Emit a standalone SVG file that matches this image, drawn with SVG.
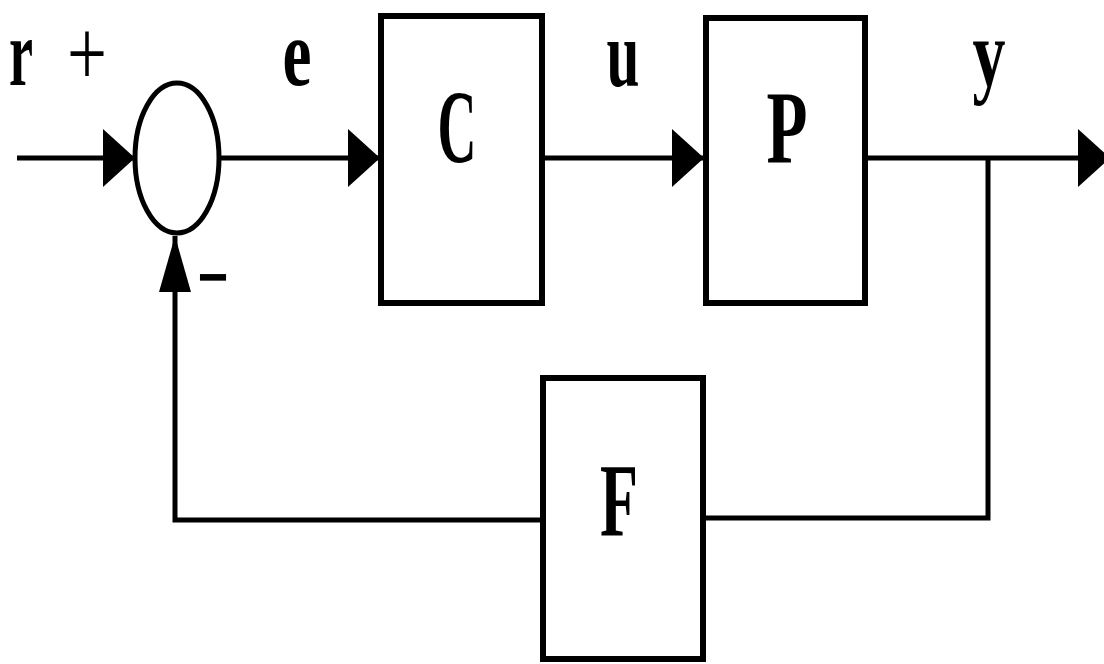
<svg xmlns="http://www.w3.org/2000/svg" width="1104" height="664" viewBox="0 0 1104 664">
<style>
  .box { fill: #ffffff; stroke: #000000; stroke-width: 6; }
  .sum { fill: #ffffff; stroke: #000000; stroke-width: 5; }
  .wire { fill: none; stroke: #000000; stroke-width: 5; stroke-linejoin: miter; }
  .lbl { fill: #000000; text-anchor: middle; font-weight: bold; font-family: "Liberation Serif", "Times New Roman", Times, serif; }
  .thin { font-weight: normal; }
  .cap { font-size: 103px; }
  .low { font-size: 95px; }
</style>
<defs>
  <marker id="arrow-h" markerUnits="userSpaceOnUse" markerWidth="34" markerHeight="60" refX="32" refY="29" orient="auto" viewBox="0 0 34 60">
    <path d="M0,0 L32,29 L0,58 Z" fill="#000000"/>
  </marker>
  <marker id="arrow-v" markerUnits="userSpaceOnUse" markerWidth="58" markerHeight="34" refX="56" refY="16" orient="auto" viewBox="0 0 58 34">
    <path d="M0,0 L56,16 L0,32 Z" fill="#000000"/>
  </marker>
</defs>
<rect width="1104" height="664" fill="#ffffff"/>
<g id="connectors">
  <path class="wire" d="M17,158 H135" marker-end="url(#arrow-h)"/>
  <path class="wire" d="M219,158 H380" marker-end="url(#arrow-h)"/>
  <path class="wire" d="M545,158 H704" marker-end="url(#arrow-h)"/>
  <path class="wire" d="M868,158 H1110" marker-end="url(#arrow-h)"/>
  <path class="wire" d="M988,158 V518 H705"/>
  <path class="wire" d="M541,520 H175 V236" marker-end="url(#arrow-v)"/>
</g>
<g id="sum">
  <ellipse class="sum" cx="177" cy="158" rx="42" ry="75"/>
  <text class="lbl low thin" x="87" y="85" textLength="40" lengthAdjust="spacingAndGlyphs">+</text>
  <text class="lbl low" x="213" y="309" textLength="32" lengthAdjust="spacingAndGlyphs">−</text>
</g>
<g id="node-C">
  <rect class="box" x="381" y="16" width="161" height="287"/>
  <text class="lbl cap" x="457" y="162" textLength="39" lengthAdjust="spacingAndGlyphs">C</text>
</g>
<g id="node-P">
  <rect class="box" x="706" y="18" width="159" height="285"/>
  <text class="lbl cap" x="787" y="163" textLength="41" lengthAdjust="spacingAndGlyphs">P</text>
</g>
<g id="node-F">
  <rect class="box" x="543" y="378" width="160" height="281"/>
  <text class="lbl cap" x="619" y="535" textLength="38" lengthAdjust="spacingAndGlyphs">F</text>
</g>
<g id="signal-labels">
  <text class="lbl low" x="21" y="85" textLength="24" lengthAdjust="spacingAndGlyphs">r</text>
  <text class="lbl low" x="297" y="85" textLength="29" lengthAdjust="spacingAndGlyphs">e</text>
  <text class="lbl low" x="623" y="86" textLength="33" lengthAdjust="spacingAndGlyphs">u</text>
  <text class="lbl low" x="989" y="86" textLength="33" lengthAdjust="spacingAndGlyphs">y</text>
</g>
</svg>
